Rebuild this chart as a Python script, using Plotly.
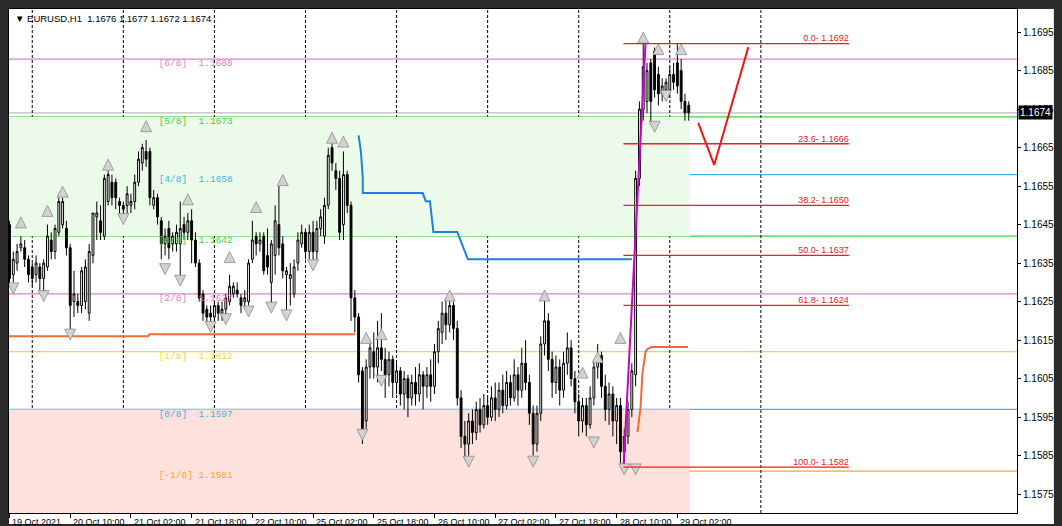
import plotly.graph_objects as go

# ---------------- data ----------------
bar_index = list(range(180))

opens = [1.1645,1.1632,1.1635,1.1639,1.1639,1.1636,1.1634,1.1632,1.1634,1.1631,
         1.1634,1.1641,1.1638,1.1643,1.1645,1.1644,1.1639,1.1625,1.1625,1.1624,
         1.1625,1.1622,1.1637,1.1647,1.1646,1.1642,1.1651,1.1656,1.1656,1.1651,
         1.1650,1.1650,1.1650,1.1651,1.1656,1.1661,1.1664,1.1664,1.1650,1.1652,
         1.1646,1.1640,1.1644,1.1640,1.1640,1.1640,1.1645,1.1643,1.1646,1.1641,
         1.1635,1.1627,1.1623,1.1622,1.1621,1.1624,1.1622,1.1623,1.1625,1.1627,
         1.1628,1.1626,1.1625,1.1625,1.1636,1.1642,1.1640,1.1642,1.1637,1.1630,
         1.1637,1.1645,1.1640,1.1632,1.1631,1.1627,1.1635,1.1640,1.1643,1.1638,
         1.1643,1.1638,1.1644,1.1642,1.1650,1.1665,1.1659,1.1657,1.1645,1.1658,
         1.1650,1.1626,1.1621,1.1607,1.1594,1.1608,1.1612,1.1608,1.1613,1.1610,
         1.1606,1.1610,1.1604,1.1607,1.1601,1.1605,1.1600,1.1604,1.1601,1.1606,
         1.1603,1.1606,1.1603,1.1612,1.1617,1.1622,1.1619,1.1624,1.1618,1.1600,
         1.1590,1.1588,1.1594,1.1591,1.1597,1.1593,1.1598,1.1595,1.1600,1.1597,
         1.1602,1.1598,1.1604,1.1600,1.1606,1.1602,1.1609,1.1604,1.1596,1.1588,
         1.1596,1.1614,1.1620,1.1610,1.1604,1.1608,1.1602,1.1609,1.1613,1.1605,
         1.1599,1.1594,1.1598,1.1593,1.1600,1.1608,1.1611,1.1603,1.1597,1.1601,
         1.1594,1.1598,1.1586,1.1590,1.1597,1.1606,1.1657,1.1675,1.1677,1.1687,
         1.1690,1.1684,1.1679,1.1680,1.1680,1.1684,1.1687,1.1685,1.1677,1.1676]
highs = [1.1646,1.1638,1.1640,1.1642,1.1641,1.1637,1.1635,1.1637,1.1635,1.1636,
         1.1645,1.1643,1.1645,1.1652,1.1652,1.1646,1.1640,1.1633,1.1627,1.1634,
         1.1636,1.1640,1.1648,1.1651,1.1650,1.1658,1.1659,1.1658,1.1657,1.1652,
         1.1651,1.1655,1.1653,1.1658,1.1664,1.1666,1.1667,1.1665,1.1654,1.1653,
         1.1647,1.1644,1.1646,1.1643,1.1645,1.1651,1.1647,1.1648,1.1649,1.1643,
         1.1636,1.1628,1.1624,1.1624,1.1625,1.1625,1.1625,1.1627,1.1632,1.1630,
         1.1630,1.1627,1.1628,1.1636,1.1646,1.1643,1.1643,1.1643,1.1644,1.1641,
         1.1650,1.1655,1.1642,1.1634,1.1635,1.1636,1.1643,1.1645,1.1644,1.1645,
         1.1646,1.1646,1.1649,1.1652,1.1665,1.1666,1.1661,1.1659,1.1664,1.1659,
         1.1651,1.1628,1.1622,1.1608,1.1610,1.1615,1.1617,1.1620,1.1622,1.1613,
         1.1612,1.1611,1.1609,1.1608,1.1607,1.1606,1.1606,1.1608,1.1609,1.1607,
         1.1608,1.1610,1.1614,1.1620,1.1625,1.1626,1.1627,1.1625,1.1620,1.1602,
         1.1594,1.1596,1.1597,1.1599,1.1600,1.1601,1.1600,1.1603,1.1604,1.1604,
         1.1606,1.1607,1.1606,1.1610,1.1608,1.1613,1.1615,1.1606,1.1598,1.1598,
         1.1616,1.1626,1.1622,1.1612,1.1611,1.1610,1.1612,1.1617,1.1615,1.1607,
         1.1601,1.1600,1.1600,1.1603,1.1610,1.1614,1.1612,1.1606,1.1604,1.1603,
         1.1600,1.1600,1.1592,1.1599,1.1609,1.1659,1.1677,1.1692,1.1687,1.1688,
         1.1691,1.1686,1.1683,1.1683,1.1686,1.1687,1.1692,1.1688,1.1679,1.1677]
lows = [1.1629,1.1630,1.1633,1.1638,1.1634,1.1630,1.1629,1.1630,1.1628,1.1627,
        1.1633,1.1636,1.1636,1.1642,1.1644,1.1637,1.1617,1.1621,1.1622,1.1622,
        1.1623,1.1620,1.1635,1.1641,1.1641,1.1641,1.1650,1.1650,1.1649,1.1647,
        1.1646,1.1648,1.1648,1.1649,1.1655,1.1659,1.1660,1.1650,1.1649,1.1645,
        1.1636,1.1637,1.1636,1.1638,1.1638,1.1631,1.1641,1.1641,1.1635,1.1634,
        1.1625,1.1620,1.1619,1.1618,1.1618,1.1620,1.1620,1.1620,1.1624,1.1626,
        1.1626,1.1622,1.1623,1.1624,1.1635,1.1637,1.1638,1.1632,1.1632,1.1624,
        1.1632,1.1637,1.1631,1.1621,1.1624,1.1626,1.1633,1.1639,1.1636,1.1636,
        1.1635,1.1636,1.1642,1.1640,1.1649,1.1659,1.1654,1.1641,1.1641,1.1648,
        1.1620,1.1617,1.1604,1.1588,1.1592,1.1605,1.1605,1.1604,1.1607,1.1600,
        1.1603,1.1600,1.1601,1.1598,1.1597,1.1595,1.1598,1.1598,1.1599,1.1597,
        1.1600,1.1599,1.1601,1.1609,1.1614,1.1615,1.1617,1.1615,1.1598,1.1587,
        1.1584,1.1585,1.1588,1.1589,1.1591,1.1592,1.1593,1.1594,1.1594,1.1595,
        1.1596,1.1597,1.1598,1.1599,1.1598,1.1600,1.1602,1.1593,1.1585,1.1586,
        1.1594,1.1611,1.1607,1.1600,1.1601,1.1598,1.1600,1.1606,1.1603,1.1596,
        1.1590,1.1591,1.1590,1.1592,1.1598,1.1605,1.1600,1.1594,1.1593,1.1590,
        1.1588,1.1583,1.1582,1.1588,1.1595,1.1603,1.1655,1.1672,1.1674,1.1671,
        1.1678,1.1676,1.1677,1.1678,1.1678,1.1680,1.1679,1.1675,1.1672,1.1672]
closes = [1.1631,1.1636,1.1638,1.1640,1.1636,1.1632,1.1631,1.1635,1.1631,1.1635,
          1.1642,1.1638,1.1644,1.1651,1.1651,1.1639,1.1624,1.1627,1.1624,1.1633,
          1.1634,1.1638,1.1648,1.1648,1.1643,1.1657,1.1658,1.1652,1.1652,1.1650,
          1.1649,1.1653,1.1651,1.1656,1.1662,1.1665,1.1662,1.1652,1.1652,1.1647,
          1.1640,1.1642,1.1639,1.1642,1.1643,1.1644,1.1643,1.1646,1.1641,1.1635,
          1.1626,1.1622,1.1621,1.1621,1.1624,1.1622,1.1623,1.1626,1.1629,1.1629,
          1.1627,1.1624,1.1626,1.1635,1.1641,1.1640,1.1641,1.1633,1.1634,1.1640,
          1.1646,1.1639,1.1633,1.1633,1.1632,1.1634,1.1641,1.1643,1.1638,1.1643,
          1.1638,1.1644,1.1647,1.1650,1.1663,1.1661,1.1657,1.1643,1.1658,1.1650,
          1.1626,1.1621,1.1606,1.1592,1.1608,1.1613,1.1608,1.1613,1.1610,1.1606,
          1.1610,1.1604,1.1607,1.1601,1.1605,1.1600,1.1604,1.1601,1.1606,1.1603,
          1.1606,1.1603,1.1612,1.1618,1.1622,1.1619,1.1624,1.1618,1.1600,1.1590,
          1.1588,1.1594,1.1591,1.1597,1.1593,1.1598,1.1595,1.1600,1.1597,1.1602,
          1.1598,1.1604,1.1600,1.1606,1.1602,1.1609,1.1604,1.1596,1.1588,1.1596,
          1.1614,1.1620,1.1610,1.1604,1.1608,1.1602,1.1609,1.1613,1.1605,1.1599,
          1.1594,1.1598,1.1593,1.1600,1.1608,1.1611,1.1603,1.1597,1.1601,1.1594,
          1.1598,1.1586,1.1590,1.1597,1.1607,1.1657,1.1675,1.1686,1.1685,1.1677,
          1.1680,1.1679,1.1681,1.1682,1.1684,1.1682,1.1681,1.1677,1.1674,1.1674]

tick_bars = [0, 16, 32, 48, 64, 80, 96, 112, 128, 144, 160, 176]
tick_labels = ["19 Oct 2021", "20 Oct 10:00", "21 Oct 02:00", "21 Oct 18:00",
               "22 Oct 10:00", "25 Oct 02:00", "25 Oct 18:00", "26 Oct 10:00",
               "27 Oct 02:00", "27 Oct 18:00", "28 Oct 10:00", "29 Oct 02:00"]
day_separators = [6, 30, 54, 78, 102, 126, 150, 174, 198]
price_ticks = [1.1575, 1.1585, 1.1595, 1.1605, 1.1615, 1.1625, 1.1635,
               1.1645, 1.1655, 1.1665, 1.1675, 1.1685, 1.1695]

murrey_names = ["[6/8]", "[5/8]", "[4/8]", "[3/8]", "[2/8]", "[1/8]", "[0/8]", "[-1/8]"]
murrey_levels = [1.1688, 1.1673, 1.1658, 1.1642, 1.1627, 1.1612, 1.1597, 1.1581]
murrey_colors = ["#e67cc9", "#3fd23f", "#3db2e2", "#3fd23f", "#e67cc9", "#f3d54a", "#3db2e2", "#f5a830"]

fib_names = ["0.0", "23.6", "38.2", "50.0", "61.8", "100.0"]
fib_levels = [1.1692, 1.1666, 1.1650, 1.1637, 1.1624, 1.1582]

blue_x = [92.0, 92.6, 93.1, 93.1, 108.9, 109.7, 110.8, 111.7, 118.0, 120.8, 164.0]
blue_y = [1.16682, 1.16640, 1.16570, 1.16532, 1.16532, 1.16511, 1.16511, 1.16431, 1.16431, 1.16360, 1.16360]

orange1_x = [-0.5, 36.5, 36.9, 91.1]
orange1_y = [1.16160, 1.16160, 1.16165, 1.16165]
orange2_x = [165.5, 166.3, 166.8, 167.6, 168.1, 169.2, 178.8]
orange2_y = [1.15911, 1.15976, 1.16064, 1.16119, 1.16127, 1.16132, 1.16132]

fib_line_x = [161.8, 167.6]
fib_line_y = [1.1582, 1.1692]

vmark_x = [181.5, 185.7, 194.7]
vmark_y = [1.16714, 1.16605, 1.16911]

frac_up_x = [3, 10, 14, 26, 36, 47, 58, 65, 72, 85, 88, 94, 98, 116, 141, 151, 155, 161, 167, 171, 177]
frac_up_y = [1.1647, 1.1650, 1.1655, 1.1662, 1.1672, 1.1653, 1.1638, 1.1651, 1.1658, 1.1669, 1.1668,
             1.1617, 1.1618, 1.1628, 1.1628, 1.1608, 1.1612, 1.1617, 1.1695, 1.1692, 1.1692]
frac_dn_x = [1, 9, 16, 30, 41, 45, 53, 57, 63, 69, 73, 80, 93, 98, 121, 138, 154, 162, 165, 170, 173]
frac_dn_y = [1.1627, 1.1625, 1.1615, 1.1645, 1.1632, 1.1629, 1.1617, 1.1619, 1.1621, 1.1622, 1.1620,
             1.1633, 1.1589, 1.1603, 1.1582, 1.1582, 1.1587, 1.1580, 1.1580, 1.1669, 1.1677]

zone_end_bar = 179.3
green_zone = [1.1642, 1.1673]
pink_zone_top = 1.1597
bid_price = 1.1674

# ---------------- geometry ----------------
W, H = 1062, 526
ML, MR, MT, MB = 8, 43, 9, 13
YMIN, YMAX = 1.15701, 1.17010
XMIN, XMAX = -0.13, 265.5
PW, PH = W - ML - MR, H - MT - MB

fig = go.Figure()

# text labels of the Murrey levels (drawn below the candles)
fig.add_trace(go.Scatter(
    x=[39.3] * len(murrey_levels), y=murrey_levels, mode="text",
    text=[f"{n:<7}{v:.4f}".replace(" ", "\u00a0") for n, v in zip(murrey_names, murrey_levels)],
    textposition="bottom right",
    textfont=dict(family="Liberation Mono", size=9.5, color=murrey_colors),
    hoverinfo="skip", showlegend=False))

fig.add_trace(go.Scatter(x=orange1_x, y=orange1_y, mode="lines",
                         line=dict(color="#f26a35", width=2), hoverinfo="skip", showlegend=False))
fig.add_trace(go.Scatter(x=orange2_x, y=orange2_y, mode="lines",
                         line=dict(color="#f26a35", width=2), hoverinfo="skip", showlegend=False))
fig.add_trace(go.Scatter(x=blue_x, y=blue_y, mode="lines",
                         line=dict(color="#1f7fe0", width=2), hoverinfo="skip", showlegend=False))

fig.add_trace(go.Candlestick(
    x=bar_index, open=opens, high=highs, low=lows, close=closes,
    increasing=dict(line=dict(color="black", width=1), fillcolor="white"),
    decreasing=dict(line=dict(color="black", width=1), fillcolor="black"),
    whiskerwidth=0, showlegend=False, hoverinfo="skip"))

fig.add_trace(go.Scatter(x=fib_line_x, y=fib_line_y, mode="lines",
                         line=dict(color="#cc00cc", width=2), hoverinfo="skip", showlegend=False))

fig.add_trace(go.Scatter(x=frac_up_x, y=frac_up_y, mode="markers",
                         marker=dict(symbol="arrow-up", size=11, color="#d2d2d2",
                                     line=dict(color="#8c8c8c", width=0.8)),
                         hoverinfo="skip", showlegend=False))
fig.add_trace(go.Scatter(x=frac_dn_x, y=frac_dn_y, mode="markers",
                         marker=dict(symbol="arrow-down", size=11, color="#d2d2d2",
                                     line=dict(color="#8c8c8c", width=0.8)),
                         hoverinfo="skip", showlegend=False))

# fibonacci labels
fig.add_trace(go.Scatter(
    x=[221.2] * len(fib_levels), y=fib_levels, mode="text",
    text=[f"{n}- {v:.4f}" for n, v in zip(fib_names, fib_levels)],
    textposition="top left",
    textfont=dict(family="Liberation Sans", size=9, color="#e31b23"),
    hoverinfo="skip", showlegend=False))

fig.add_trace(go.Scatter(x=vmark_x, y=vmark_y, mode="lines",
                         line=dict(color="#f01515", width=2), hoverinfo="skip", showlegend=False))

shapes = []
# window frame (white chart window on dark background)
shapes.append(dict(type="rect", xref="paper", yref="paper", layer="below",
                   x0=0, x1=(1056 - ML) / PW, y0=-11 / PH, y1=1,
                   fillcolor="white", line=dict(width=0)))
# zones
shapes.append(dict(type="rect", xref="x", yref="y", layer="below",
                   x0=XMIN, x1=zone_end_bar, y0=green_zone[0], y1=green_zone[1],
                   fillcolor="#ecfbe9", line=dict(width=0)))
shapes.append(dict(type="rect", xref="x", yref="y", layer="below",
                   x0=XMIN, x1=zone_end_bar, y0=YMIN, y1=pink_zone_top,
                   fillcolor="#fde1dc", line=dict(width=0)))
# murrey lines
for lv, c in zip(murrey_levels, murrey_colors):
    shapes.append(dict(type="line", xref="paper", yref="y", layer="below",
                       x0=0, x1=1, y0=lv, y1=lv, line=dict(color=c, width=1.3)))
# bid line
shapes.append(dict(type="line", xref="paper", yref="y", layer="below",
                   x0=0, x1=1, y0=bid_price, y1=bid_price, line=dict(color="#bdbdbd", width=1.2)))
# day separators
for d in day_separators:
    shapes.append(dict(type="line", xref="x", yref="paper", layer="below",
                       x0=d, x1=d, y0=0, y1=1, line=dict(color="black", width=1, dash="3px,2px")))
# fibonacci level lines
for lv in fib_levels:
    shapes.append(dict(type="line", xref="x", yref="y", layer="above",
                       x0=fib_line_x[0], x1=221.2, y0=lv, y1=lv,
                       line=dict(color="#ff1a1a", width=1.3)))

annotations = []
annotations.append(dict(xref="paper", yref="paper", x=(12 - ML) / PW,
                        y=(H - MB - 18) / PH, xanchor="left", yanchor="middle",
                        text="\u25bc EURUSD,H1  1.1676 1.1677 1.1672 1.1674", showarrow=False,
                        font=dict(family="Liberation Sans", size=9.5, color="black")))
for tb, tl in zip(tick_bars, tick_labels):
    annotations.append(dict(xref="x", yref="paper", x=tb, y=-0.002, xanchor="left",
                            yanchor="top", xshift=1, yshift=-1, text=tl, showarrow=False,
                            font=dict(family="Liberation Sans", size=9, color="black")))
annotations.append(dict(xref="paper", yref="y", x=1.0, y=bid_price, xanchor="left",
                        yanchor="middle", xshift=1, text="1.1674", showarrow=False,
                        bgcolor="black", borderpad=1,
                        font=dict(family="Liberation Sans", size=10, color="white")))

fig.update_layout(
    width=W, height=H,
    margin=dict(l=ML, r=MR, t=MT, b=MB, pad=0),
    paper_bgcolor="#2a2a2a", plot_bgcolor="white",
    shapes=shapes, annotations=annotations,
    showlegend=False,
    xaxis=dict(range=[XMIN, XMAX], showgrid=False, zeroline=False,
               rangeslider=dict(visible=False),
               tickmode="array", tickvals=tick_bars, ticktext=[""] * len(tick_bars),
               ticks="outside", ticklen=4, tickcolor="black",
               showline=True, linecolor="black", linewidth=1, mirror=True),
    yaxis=dict(range=[YMIN, YMAX], side="right", showgrid=False, zeroline=False,
               tickmode="array", tickvals=price_ticks,
               ticktext=[f"{p:.4f}" for p in price_ticks],
               ticks="outside", ticklen=3, tickcolor="black",
               tickfont=dict(family="Liberation Sans", size=10, color="black"),
               showline=True, linecolor="black", linewidth=1, mirror=True),
)

fig.write_html("out.html", config={"displayModeBar": False},
               post_script="document.body.style.margin='0px';document.body.style.overflow='hidden';")
